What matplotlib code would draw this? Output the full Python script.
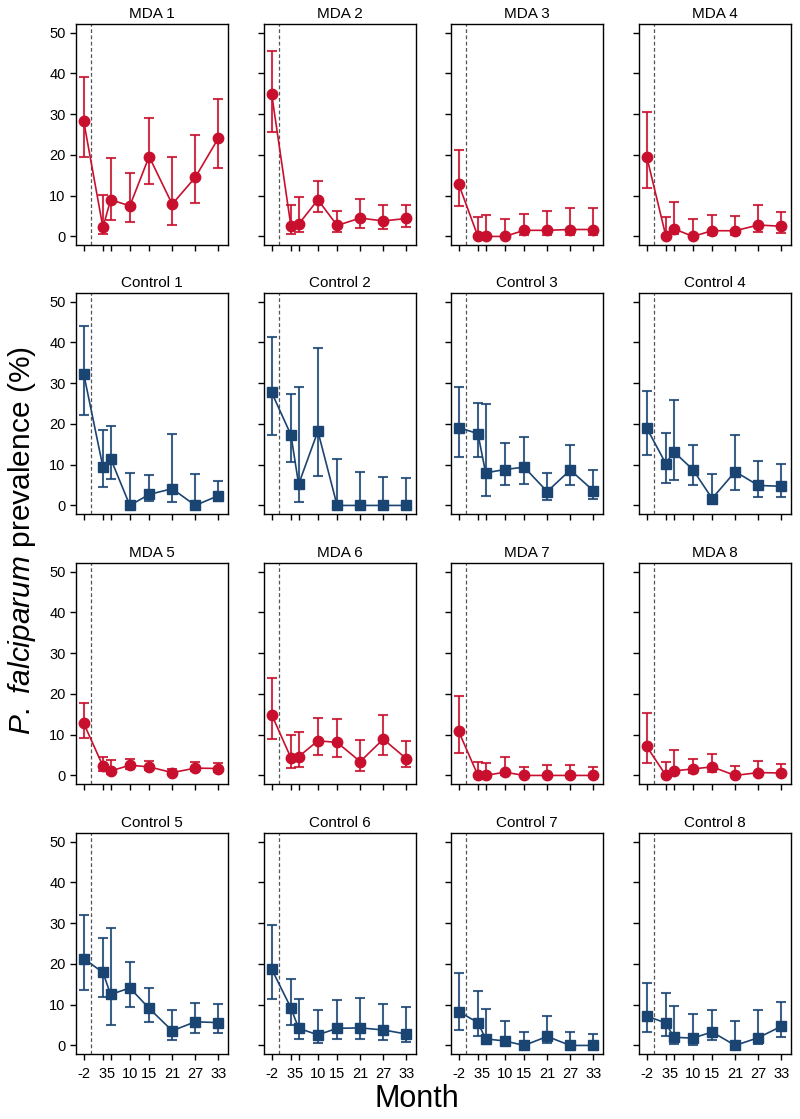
import numpy as np
import matplotlib
matplotlib.use("Agg")
import matplotlib.pyplot as plt

plt.rcParams['font.family'] = ['Liberation Sans', 'DejaVu Sans']
plt.rcParams['mathtext.fontset'] = 'custom'
plt.rcParams['mathtext.rm'] = 'Liberation Sans'
plt.rcParams['mathtext.it'] = 'Liberation Sans:italic'

months = [-2, 3, 5, 10, 15, 21, 27, 33]
tick_labels = ["-2", "3", "5", "10", "15", "21", "27", "33"]

titles = ["MDA 1", "MDA 2", "MDA 3", "MDA 4",
          "Control 1", "Control 2", "Control 3", "Control 4",
          "MDA 5", "MDA 6", "MDA 7", "MDA 8",
          "Control 5", "Control 6", "Control 7", "Control 8"]

# prevalence (%) per panel, same order as titles
prev = [
    [28.3, 2.2, 9.0, 7.5, 19.6, 7.9, 14.5, 24.1],
    [34.9, 2.5, 3.0, 9.0, 2.7, 4.5, 3.8, 4.4],
    [12.8, 0.0, 0.0, 0.0, 1.5, 1.5, 1.7, 1.7],
    [19.6, 0.0, 1.9, 0.0, 1.4, 1.4, 2.8, 2.5],
    [32.3, 9.4, 11.5, 0.0, 2.7, 4.1, 0.0, 2.4],
    [27.7, 17.3, 5.2, 18.2, 0.0, 0.0, 0.0, 0.0],
    [19.1, 17.6, 8.0, 8.8, 9.4, 3.4, 8.7, 3.6],
    [19.0, 10.2, 13.2, 8.8, 1.7, 8.3, 4.9, 4.7],
    [12.8, 2.3, 1.1, 2.5, 2.1, 0.7, 1.8, 1.7],
    [14.9, 4.3, 4.6, 8.5, 8.1, 3.4, 8.9, 4.1],
    [10.8, 0.0, 0.0, 0.8, 0.0, 0.0, 0.0, 0.0],
    [7.1, 0.0, 1.1, 1.6, 2.1, 0.0, 0.7, 0.6],
    [21.3, 17.9, 12.5, 14.1, 9.1, 3.6, 5.8, 5.6],
    [18.7, 9.2, 4.2, 2.6, 4.2, 4.3, 3.8, 2.8],
    [8.3, 5.6, 1.6, 1.1, 0.0, 2.2, 0.0, 0.0],
    [7.2, 5.5, 2.0, 1.8, 3.3, 0.0, 1.9, 4.7],
]
lower = [
    [19.6, 0.5, 4.0, 3.5, 12.8, 2.9, 8.2, 16.7],
    [25.5, 0.7, 1.0, 6.0, 1.2, 2.0, 1.9, 2.4],
    [7.4, 0.0, 0.0, 0.0, 0.4, 0.4, 0.3, 0.3],
    [11.9, 0.0, 0.7, 0.0, 0.4, 0.4, 1.0, 0.9],
    [22.3, 4.5, 6.5, 0.0, 1.0, 0.9, 0.0, 1.0],
    [17.3, 10.7, 0.8, 7.3, 0.0, 0.0, 0.0, 0.0],
    [12.0, 11.9, 2.2, 5.0, 5.2, 1.4, 4.9, 1.5],
    [12.4, 5.6, 6.3, 5.0, 0.5, 3.8, 2.1, 2.1],
    [9.2, 1.1, 0.4, 1.7, 1.3, 0.2, 1.0, 0.9],
    [8.9, 1.9, 2.0, 4.9, 4.4, 1.2, 5.1, 2.0],
    [5.6, 0.0, 0.0, 0.2, 0.0, 0.0, 0.0, 0.0],
    [3.1, 0.0, 0.3, 0.7, 0.8, 0.0, 0.0, 0.0],
    [13.5, 11.8, 4.9, 9.4, 5.7, 1.4, 3.1, 3.1],
    [11.4, 5.1, 1.6, 0.7, 1.6, 1.6, 1.4, 0.8],
    [3.8, 2.3, 0.3, 0.1, 0.0, 0.7, 0.0, 0.0],
    [3.4, 2.3, 0.4, 0.1, 1.3, 0.0, 0.4, 2.1],
]
upper = [
    [39.0, 10.1, 19.3, 15.5, 29.1, 19.6, 24.8, 33.6],
    [45.5, 7.7, 9.6, 13.5, 6.2, 9.2, 7.7, 7.7],
    [21.2, 4.7, 5.2, 4.3, 5.5, 6.2, 6.9, 6.9],
    [30.4, 4.7, 8.5, 4.3, 5.3, 5.0, 7.7, 6.1],
    [44.1, 18.4, 19.5, 8.0, 7.4, 17.5, 7.7, 6.1],
    [41.4, 27.3, 29.0, 38.5, 11.3, 8.3, 7.0, 6.7],
    [29.1, 25.2, 24.9, 15.2, 16.7, 7.9, 14.9, 8.7],
    [28.0, 17.8, 25.9, 14.7, 7.7, 17.2, 11.0, 10.2],
    [17.8, 4.5, 3.7, 4.0, 3.6, 1.7, 3.2, 3.0],
    [23.9, 9.9, 10.6, 14.2, 13.9, 8.8, 14.9, 8.4],
    [19.4, 3.4, 3.1, 4.5, 2.0, 2.5, 2.5, 2.0],
    [15.3, 3.4, 6.3, 4.1, 5.2, 2.3, 3.6, 2.8],
    [32.0, 26.4, 28.9, 20.4, 14.2, 8.7, 10.5, 10.1],
    [29.5, 16.4, 11.5, 8.6, 11.1, 11.7, 10.1, 9.5],
    [17.8, 13.3, 8.9, 5.9, 3.4, 7.1, 3.2, 2.7],
    [15.2, 12.9, 9.6, 7.8, 8.8, 6.1, 8.8, 10.6],
]

red = '#C8102E'
blue = '#1A4472'

W, H = 800, 1119
fig = plt.figure(figsize=(W / 100, H / 100), dpi=100)

col_left = [76, 264, 451, 639]
row_top = [24, 293, 563, 833]
pw, ph = 152, 221

for k in range(16):
    r, c = divmod(k, 4)
    ax = fig.add_axes([col_left[c] / W, 1 - (row_top[r] + ph) / H, pw / W, ph / H])
    is_mda = titles[k].startswith("MDA")
    col = red if is_mda else blue
    mk = 'o' if is_mda else 's'
    y = np.array(prev[k])
    yerr = [y - np.array(lower[k]), np.array(upper[k]) - y]
    ax.axvline(0, color='#555555', ls=(0, (3, 2)), lw=0.9, zorder=1)
    ax.errorbar(months, y, yerr=yerr, fmt='none', ecolor=col, elinewidth=1.5,
                capsize=3.5, capthick=1.5, alpha=0.85, zorder=2)
    ax.plot(months, y, color=col, lw=1.2, marker=mk, ms=7.5 if is_mda else 7,
            zorder=3)
    ax.set_xlim(-4, 35.5)
    ax.set_ylim(-2.1, 52.1)
    ax.set_yticks([0, 10, 20, 30, 40, 50])
    ax.set_xticks(months)
    ax.tick_params(direction='out', length=4.5, width=1, labelsize=10.5, pad=3)
    if c == 0:
        ax.set_yticklabels(["0", "10", "20", "30", "40", "50"])
    else:
        ax.set_yticklabels([])
    if r == 3:
        ax.set_xticklabels(tick_labels)
        ax.tick_params(axis='x', labelsize=10.5, pad=5)
    else:
        ax.set_xticklabels([])
    for s in ax.spines.values():
        s.set_linewidth(1.0)
    ax.set_title(titles[k], fontsize=11, pad=4)

fig.text(22 / W, 1 - 541 / H, r"$\it{P.}$ $\it{falciparum}$ prevalence (%)",
         rotation=90, fontsize=21.5, ha='center', va='center')
fig.text(417 / W, 1 - 1099 / H, "Month", fontsize=22, ha='center', va='center')

fig.savefig("out.png", dpi=100)
